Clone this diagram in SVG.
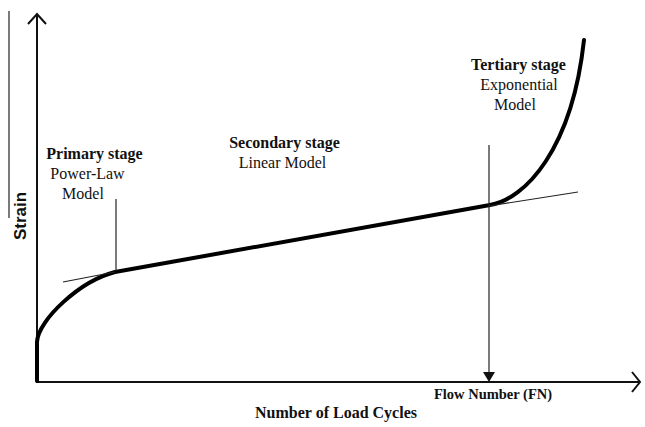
<svg xmlns="http://www.w3.org/2000/svg" width="645" height="427" viewBox="0 0 645 427">
<style>
.ax{stroke:#111;stroke-width:2;fill:none}
.thin{stroke:#222;stroke-width:1.2;fill:none}
.curve{stroke:#000;stroke-width:4;fill:none;stroke-linecap:round;stroke-linejoin:round}
.lbl{font-family:"Liberation Serif","Times New Roman",serif;font-size:16px;fill:#111;text-anchor:middle}
.b{font-weight:bold}
.ylab{font-family:"Liberation Sans",Arial,sans-serif;font-size:17px;font-weight:bold;fill:#111;text-anchor:middle}
</style>
<rect width="645" height="427" fill="#fff"/>
<g id="axes">
<line class="thin" x1="9" y1="11" x2="9" y2="218"/>
<line class="ax" x1="37" y1="383" x2="37" y2="14"/>
<polyline class="ax" points="28,24 37,14 46,24" stroke-width="2.5"/>
<line class="ax" x1="36" y1="382" x2="639" y2="382"/>
<polyline class="ax" points="632,372 640,382 632,392" stroke-width="2.5"/>
<text class="ylab" transform="translate(25.5,216) rotate(-90)">Strain</text>
<text class="lbl b" x="336" y="418">Number of Load Cycles</text>
</g>
<g id="connectors">
<path class="curve" d="M37,381 L37,342 C38,320 80,281 115,272 L490,205 C525,199 572,150 584,40"/>
<line class="thin" x1="63" y1="282" x2="115" y2="272"/>
<line class="thin" x1="489" y1="206" x2="578" y2="192"/>
<line class="thin" x1="116" y1="199" x2="116" y2="271"/>
<line class="thin" x1="489" y1="145" x2="489" y2="373"/>
<polygon points="483,372 495,372 489,382" fill="#111"/>
</g>
<g id="primary">
<text class="lbl b" x="94.5" y="159">Primary stage</text>
<text class="lbl" x="87.5" y="179">Power-Law</text>
<text class="lbl" x="83" y="199">Model</text>
</g>
<g id="secondary">
<text class="lbl b" x="284.5" y="148">Secondary stage</text>
<text class="lbl" x="282.5" y="168">Linear Model</text>
</g>
<g id="tertiary">
<text class="lbl b" x="518.5" y="70">Tertiary stage</text>
<text class="lbl" x="519" y="90">Exponential</text>
<text class="lbl" x="515" y="110">Model</text>
</g>
<g id="fn">
<text class="lbl b" x="493" y="399" style="font-size:14.5px">Flow Number (FN)</text>
</g>
</svg>
